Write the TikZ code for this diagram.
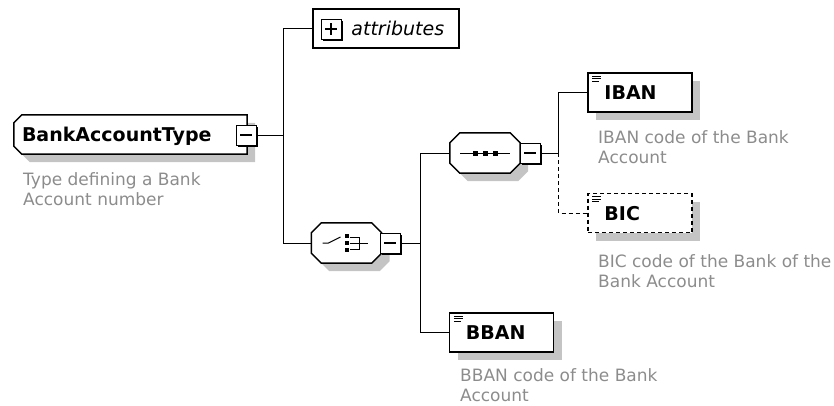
\documentclass[tikz,border=0pt]{standalone}
\usepackage{fontspec}
\setmainfont{DejaVu Sans}
\usetikzlibrary{shadows,backgrounds}
\definecolor{shdgray}{RGB}{196,196,196}
\definecolor{dscgray}{RGB}{140,140,140}
\newcommand{\nmfont}{\fontsize{19}{22}\selectfont\bfseries}
\newcommand{\atfont}{\fontsize{19}{22}\selectfont\itshape}
\newcommand{\dsfont}{\fontsize{17}{20}\selectfont}
\tikzset{%
    lin/.style={line width = 1pt},
    das/.style={line width = 1pt, dash pattern=on 4pt off 3pt},
    sdw/.style={drop shadow={shadow xshift=8pt, shadow yshift=-8pt, fill=shdgray, opacity=1}},
    ele/.style={rectangle, draw, fill=white, inner sep=0pt, minimum width=104pt, minimum height=39pt, sdw},
    cmp/.style={rectangle, inner sep=0pt, minimum width=70pt, minimum height=40pt},
    oct/.style={draw, fill=white, line width=1.5pt, sdw},
    nam/.style={anchor=west, inner sep=0pt, text depth=0pt, font=\nmfont},
    tog/.style={rectangle, draw, fill=white, line width=1pt, inner sep=0pt, minimum size=20pt,
        drop shadow={shadow xshift=1.5pt, shadow yshift=-1.5pt, fill=black, opacity=1}},
    mns/.style={tog, path picture={\draw[line width=1.2pt] ([xshift=4pt]path picture bounding box.west) -- ([xshift=-4pt]path picture bounding box.east);}},
    pls/.style={tog, path picture={\draw[line width=1.2pt] ([xshift=4pt]path picture bounding box.west) -- ([xshift=-4pt]path picture bounding box.east)
        ([yshift=-4pt]path picture bounding box.north) -- ([yshift=4pt]path picture bounding box.south);}},
    dsc/.style={anchor=base west, inner sep=0pt, align=left, text=dscgray, font=\dsfont}
}
\begin{document}
\begin{tikzpicture}[x=1pt,y=-1pt]
    \useasboundingbox (0,0) rectangle (834,405);
    % elements and compositors
    \node[cmp, minimum width=233pt, minimum height=39pt,
        label={[nam, xshift=8pt]west:BankAccountType}] (bat) at (130.5,134.5) {};
    \node[rectangle, draw, line width=1.5pt, minimum width=146pt, minimum height=39pt,
        label={[nam, font=\atfont, xshift=39pt]west:attributes}] (att) at (386,28.5) {};
    \node[cmp] (chc) at (346.5,243) {};
    \node[cmp] (seq) at (485,153) {};
    \node[ele, line width=1.5pt, label={[nam, xshift=17pt]west:IBAN}] (iban) at (640,92.5) {};
    \node[ele, das, line width=1.5pt, label={[nam, xshift=17pt]west:BIC}] (bic) at (640,213) {};
    \node[ele, line width=1.5pt, label={[nam, xshift=17pt]west:BBAN}] (bban) at (501.5,332.5) {};
    \begin{scope}[on background layer]
        \path[oct] ([xshift=8pt]bat.north west) -- (bat.north east) -- (bat.south east) -- ([xshift=8pt]bat.south west)
            -- ([yshift=8pt]bat.south west) -- ([yshift=-8pt]bat.north west) -- cycle;
        \foreach \c in {chc,seq}
            \path[oct] ([xshift=10pt]\c.north west) -- ([xshift=-10pt]\c.north east) -- ([yshift=-10pt]\c.north east)
                -- ([yshift=10pt]\c.south east) -- ([xshift=-10pt]\c.south east) -- ([xshift=10pt]\c.south west)
                -- ([yshift=10pt]\c.south west) -- ([yshift=-10pt]\c.north west) -- cycle;
    \end{scope}
    % toggles
    \node[mns] (tbat) at (246,135) {};
    \node[pls] (tatt) at (331,29) {};
    \node[mns] (tchc) at (390,243) {};
    \node[mns] (tseq) at (530,153) {};
    % connectors
    \draw[lin] (tbat.east) -- ++(27,0) coordinate (bv) |- (att.west);
    \draw[lin] (bv) |- (chc.west);
    \draw[lin] (tchc.east) -- ++(20,0) coordinate (cv) |- (seq.west);
    \draw[lin] (cv) |- (bban.west);
    \draw[lin] (tseq.east) -- ++(18,0) coordinate (sv) |- (iban.west);
    \draw[das] (sv) |- (bic.west);
    % compositor icons
    \begin{scope}[shift={(seq.center)}]
        \draw[lin] (-25,0) -- (25,0);
        \foreach \i in {-10,0,10} \fill (\i-2.5,-2.5) rectangle (\i+2.5,2.5);
    \end{scope}
    \begin{scope}[shift={(chc.center)}]
        \draw[lin] (-24,0) -- (-18,0) -- (-6,-6);
        \foreach \k in {-7,0,7} \fill (-2,\k-2) rectangle (2,\k+2);
        \draw[lin] (3,-6) -- (13,-6) -- (13,6) -- (3,6) (3,0) -- (21,0);
    \end{scope}
    \foreach \e in {iban,bic,bban}
        \foreach \k/\w in {4/9,6.5/9,9/7}
            \draw[line width=0.9pt] ([xshift=5pt,yshift=-\k pt]\e.north west) -- ++(\w,0);
    % descriptions
    \node[dsc] (dbat) at (23,205) {Type defining a Bank\\Account number};
    \node[dsc] (diban) at (598,163) {IBAN code of the Bank\\Account};
    \node[dsc] (dbic) at (598,287) {BIC code of the Bank of the\\Bank Account};
    \node[dsc] (dbban) at (460,401) {BBAN code of the Bank\\Account};
\end{tikzpicture}
\end{document}
